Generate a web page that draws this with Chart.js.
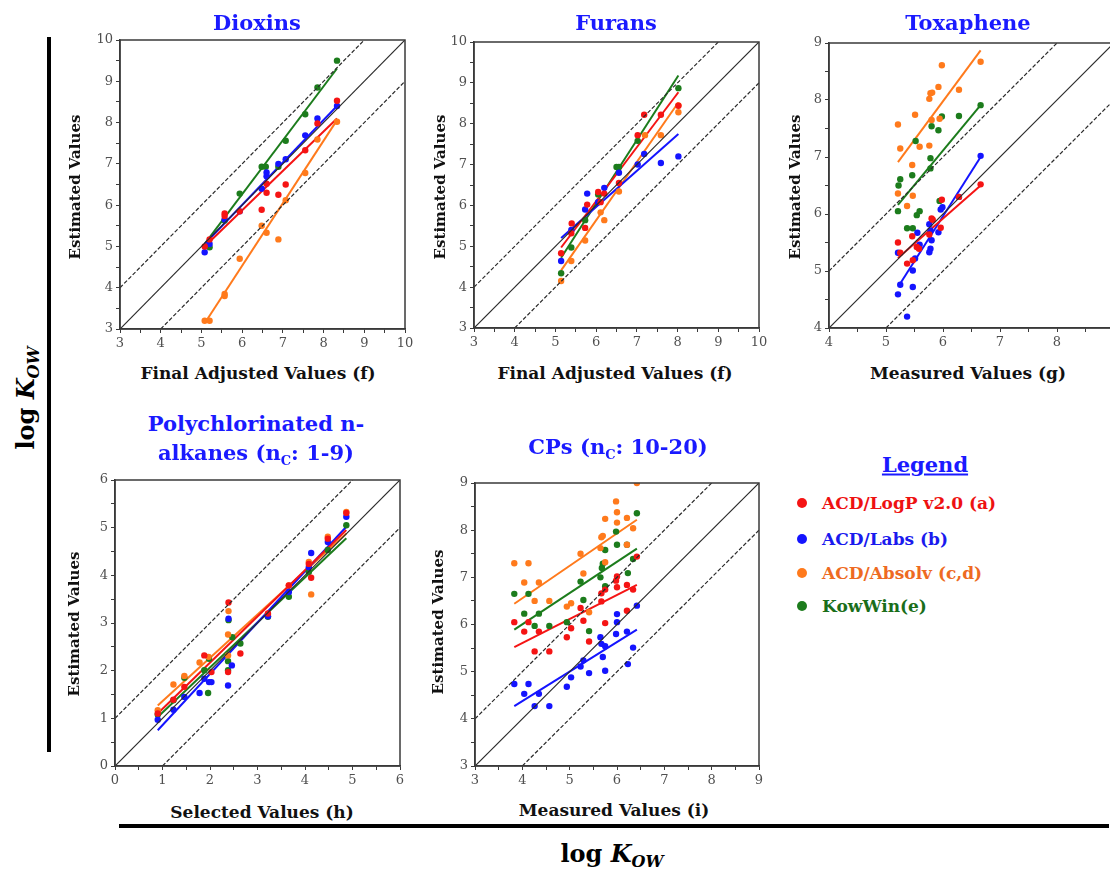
<!DOCTYPE html>
<html>
<head>
<meta charset="utf-8">
<script src="https://cdn.jsdelivr.net/npm/chart.js@4/dist/chart.umd.min.js"></script>
<style>
  html, body { margin: 0; padding: 0; background: #fff; }
  body { width: 1110px; height: 871px; position: relative; overflow: hidden; font-family: "DejaVu Serif", serif; }
  canvas { position: absolute; }
  .txt { position: absolute; transform: translate(-50%, -50%); white-space: nowrap; font-weight: bold; }
  .title { color: #1a1aff; font-size: 21px; }
  .axis { color: #111; font-size: 17px; }
  .axis.rot { font-size: 15px; }
  .rot { transform: translate(-50%, -50%) rotate(-90deg); }
  .big { color: #000; font-size: 24px; }
  .rule { position: absolute; background: #000; }
  .legend-row { position: absolute; font-size: 17px; font-weight: bold; white-space: nowrap; transform: translateY(-50%); }
  .dot { position: absolute; width: 10px; height: 10px; border-radius: 50%; transform: translate(-50%, -50%); }
</style>
</head>
<body>

<canvas id="dioxins"></canvas>
<canvas id="furans"></canvas>
<canvas id="toxaphene"></canvas>
<canvas id="alkanes"></canvas>
<canvas id="cps"></canvas>

<div class="txt title" style="left:257px; top:22px;">Dioxins</div>
<div class="txt title" style="left:616px; top:22px;">Furans</div>
<div class="txt title" style="left:968px; top:22px;">Toxaphene</div>
<div class="txt title" style="left:256px; top:423px;">Polychlorinated n-</div>
<div class="txt title" style="left:256px; top:454px;">alkanes (n<sub style="font-size:13px">C</sub>: 1-9)</div>
<div class="txt title" style="left:618px; top:448px;">CPs (n<sub style="font-size:13px">C</sub>: 10-20)</div>

<div class="txt axis" style="left:258px; top:373px;">Final Adjusted Values (f)</div>
<div class="txt axis" style="left:615px; top:373px;">Final Adjusted Values (f)</div>
<div class="txt axis" style="left:968px; top:373px;">Measured Values (g)</div>
<div class="txt axis" style="left:262px; top:812px;">Selected Values (h)</div>
<div class="txt axis" style="left:614px; top:810px;">Measured Values (i)</div>

<div class="txt axis rot" style="left:75px; top:187px;">Estimated Values</div>
<div class="txt axis rot" style="left:440px; top:187px;">Estimated Values</div>
<div class="txt axis rot" style="left:795px; top:187px;">Estimated Values</div>
<div class="txt axis rot" style="left:74px; top:624px;">Estimated Values</div>
<div class="txt axis rot" style="left:438px; top:622px;">Estimated Values</div>

<div class="rule" style="left:47px; top:37px; width:4px; height:715px;"></div>
<div class="rule" style="left:119px; top:824px; width:990px; height:4px;"></div>
<div class="txt big rot" style="left:27px; top:398px;">log <i>K</i><sub style="font-size:16px"><i>OW</i></sub></div>
<div class="txt big" style="left:612px; top:855px;">log <i>K</i><sub style="font-size:16px"><i>OW</i></sub></div>

<div class="txt title" style="left:925px; top:464px; text-decoration: underline;">Legend</div>
<div id="legend"></div>

<script>
// series order: ACD/LogP, ACD/Labs, ACD/Absolv, KowWin
const seriesNames = ["ACD/LogP v2.0 (a)", "ACD/Labs (b)", "ACD/Absolv (c,d)", "KowWin(e)"];
const pointColors = ["#f51414", "#1414ff", "#ff7a1c", "#1c7c1c"];
const textColors = ["#ee1111", "#1a1aee", "#ee6a22", "#1a6e1a"];

// axis ranges (same on x and y)
const dioxinsRange = [3, 10];
const furansRange = [3, 10];
const toxapheneRange = [4, 9];
const alkanesRange = [0, 6];
const cpsRange = [3, 9];

// Dioxins
const dioxinsRed = [[5.08,5.0],[5.2,5.17],[5.57,5.8],[5.57,5.74],[5.94,5.85],[6.48,5.89],[6.6,6.3],[6.6,6.52],[6.89,6.25],[7.07,6.5],[7.55,7.33],[7.85,7.98],[8.33,8.53]];
const dioxinsBlue = [[5.08,4.86],[5.2,5.06],[5.57,5.65],[5.94,5.85],[6.48,6.4],[6.6,6.7],[6.6,6.79],[6.89,7.0],[7.07,7.11],[7.55,7.69],[7.85,8.1],[8.33,8.4]];
const dioxinsOrange = [[5.08,3.2],[5.2,3.2],[5.57,3.85],[5.57,3.8],[5.94,4.7],[6.48,5.5],[6.6,5.33],[6.89,5.17],[7.07,6.12],[7.55,6.78],[7.85,7.59],[8.33,8.02]];
const dioxinsGreen = [[5.2,4.98],[5.57,5.63],[5.94,6.28],[6.48,6.93],[6.58,6.93],[6.89,6.93],[7.07,7.56],[7.55,8.2],[7.85,8.85],[8.33,9.5]];
const dioxinsFits = [[[5.08,5.0],[8.33,8.1]], [[5.08,5.06],[8.33,8.4]], [[5.12,3.2],[8.33,8.06]], [[5.08,5.06],[8.33,9.31]]];

// Furans
const furansRed = [[5.14,4.83],[5.39,5.32],[5.4,5.56],[5.73,5.45],[5.78,6.02],[6.05,6.33],[6.11,6.08],[6.2,6.29],[6.56,6.55],[7.02,7.72],[7.18,8.22],[7.59,8.22],[8.02,8.44]];
const furansBlue = [[5.14,4.64],[5.39,5.4],[5.73,5.9],[5.78,6.29],[6.05,6.08],[6.2,6.43],[6.56,6.8],[7.02,7.0],[7.18,7.26],[7.59,7.04],[8.02,7.2]];
const furansOrange = [[5.14,4.15],[5.39,4.64],[5.73,5.14],[6.11,5.83],[6.2,5.64],[6.56,6.34],[7.2,7.72],[7.59,7.72],[8.02,8.28],[8.02,8.45]];
const furansGreen = [[5.14,4.34],[5.39,4.97],[5.73,5.64],[6.05,6.27],[6.5,6.94],[6.56,6.94],[7.02,7.58],[8.02,8.87]];
const furansFits = [[[5.14,4.97],[8.02,8.77]], [[5.14,5.2],[8.02,7.75]], [[5.14,4.41],[8.02,8.52]], [[5.14,4.72],[8.02,9.18]]];

// Toxaphene
const toxapheneRed = [[5.21,5.5],[5.25,5.32],[5.37,5.13],[5.46,5.61],[5.47,5.19],[5.54,5.42],[5.58,5.39],[5.76,5.64],[5.8,5.92],[5.82,5.9],[5.98,6.25],[5.96,5.76],[6.28,6.3],[6.66,6.52]];
const toxapheneBlue = [[5.21,5.32],[5.25,4.76],[5.21,4.59],[5.37,4.2],[5.47,5.01],[5.47,4.72],[5.51,5.22],[5.55,5.67],[5.59,5.46],[5.76,5.82],[5.78,5.71],[5.8,5.54],[5.78,5.39],[5.76,5.33],[5.92,5.68],[5.96,6.08],[5.99,6.12],[6.28,6.3],[6.66,7.02]];
const toxapheneOrange = [[5.21,7.57],[5.25,7.15],[5.51,7.74],[5.59,7.18],[5.46,6.86],[5.21,6.36],[5.37,6.14],[5.47,6.32],[5.76,7.2],[5.76,8.02],[5.78,8.12],[5.81,8.13],[5.92,8.23],[5.98,8.61],[5.8,7.65],[5.94,7.67],[6.28,8.18],[6.66,8.67]];
const toxapheneGreen = [[5.21,6.05],[5.22,6.5],[5.25,6.61],[5.46,6.68],[5.52,7.28],[5.54,5.98],[5.59,6.05],[5.37,5.75],[5.47,5.75],[5.8,7.54],[5.92,7.47],[5.98,7.71],[5.78,6.98],[5.78,6.8],[5.94,6.23],[6.28,7.72],[6.66,7.91]];
const toxapheneFits = [[[5.21,5.23],[6.66,6.5]], [[5.25,4.78],[6.66,7.0]], [[5.21,6.91],[6.66,8.87]], [[5.21,6.16],[6.66,7.91]]];

// Polychlorinated n-alkanes
const alkanesRed = [[0.9,1.1],[1.23,1.39],[1.46,1.66],[1.88,2.32],[2.03,1.97],[2.39,3.43],[2.38,1.97],[2.64,2.36],[3.22,3.2],[3.66,3.79],[4.08,4.24],[4.13,3.95],[4.48,4.77],[4.87,5.31]];
const alkanesBlue = [[0.9,0.97],[1.23,1.18],[1.46,1.45],[1.78,1.53],[1.88,1.83],[1.98,1.76],[2.03,1.76],[2.38,1.69],[2.39,3.09],[2.46,2.11],[3.22,3.14],[3.66,3.65],[4.08,4.17],[4.13,4.47],[4.48,4.7],[4.87,5.23]];
const alkanesOrange = [[0.9,1.17],[1.23,1.71],[1.46,1.89],[1.78,2.17],[1.97,2.29],[2.38,2.32],[2.38,2.76],[2.39,3.25],[3.22,3.18],[3.66,3.79],[4.08,4.28],[4.13,3.6],[4.48,4.81],[4.87,5.33]];
const alkanesGreen = [[0.9,1.08],[1.23,1.38],[1.46,1.85],[1.88,2.01],[1.98,2.25],[1.96,1.53],[2.38,2.2],[2.38,2.01],[2.39,3.06],[2.47,2.7],[2.64,2.57],[3.22,3.13],[3.66,3.55],[4.08,4.07],[4.48,4.53],[4.87,5.05]];
const alkanesFits = [[[0.9,1.1],[4.87,4.95]], [[0.9,0.75],[4.87,5.02]], [[0.9,1.27],[4.87,4.88]], [[0.9,1.03],[4.87,4.78]]];

// CPs
const cpsRed = [[3.83,6.05],[4.04,5.85],[4.13,6.05],[4.26,5.43],[4.35,5.85],[4.57,5.43],[4.94,5.73],[5.03,5.92],[5.23,6.35],[5.29,6.08],[5.41,5.64],[5.67,6.49],[5.67,6.66],[5.75,6.74],[5.75,6.03],[5.98,6.93],[6.0,7.02],[6.0,6.79],[6.21,6.84],[6.21,6.29],[6.34,6.74],[6.42,7.44]];
const cpsBlue = [[3.83,4.74],[4.04,4.53],[4.13,4.74],[4.26,4.27],[4.35,4.53],[4.57,4.27],[4.94,4.68],[5.03,4.88],[5.23,5.11],[5.29,5.24],[5.41,4.97],[5.65,5.73],[5.67,5.59],[5.7,5.31],[5.75,5.54],[5.75,5.02],[5.98,5.8],[6.0,6.05],[6.0,6.22],[6.21,5.85],[6.23,5.16],[6.34,5.51],[6.42,6.4]];
const cpsOrange = [[3.83,7.3],[4.13,7.3],[4.04,6.89],[4.35,6.89],[4.26,6.5],[4.57,6.5],[4.94,6.38],[5.03,6.45],[5.23,7.5],[5.29,7.08],[5.41,6.26],[5.67,7.85],[5.7,7.88],[5.65,7.62],[5.75,8.24],[5.75,7.32],[5.98,8.61],[6.0,8.38],[6.0,8.16],[6.21,8.26],[6.21,7.69],[6.34,8.04],[6.42,9.0]];
const cpsGreen = [[3.83,6.65],[4.04,6.23],[4.13,6.65],[4.26,5.97],[4.35,6.23],[4.57,5.97],[4.94,6.05],[5.23,6.91],[5.29,6.52],[5.41,5.86],[5.65,7.0],[5.68,7.2],[5.7,7.29],[5.75,7.58],[5.75,6.81],[5.98,7.97],[6.0,7.69],[6.21,7.69],[6.23,7.09],[6.34,7.39],[6.42,8.36]];
const cpsFits = [[[3.83,5.52],[6.42,6.84]], [[3.83,4.27],[6.42,5.89]], [[3.83,6.44],[6.42,8.22]], [[3.83,5.89],[6.42,7.61]]];

// padding round each plot area inside its canvas
const PAD_L = 44, PAD_B = 32, PAD_T = 12, PAD_R = 14;

const framePlugin = {
  id: "frame",
  afterDraw(chart) {
    const { ctx, chartArea: a } = chart;
    ctx.save();
    ctx.strokeStyle = "#3a3a3a";
    ctx.lineWidth = 1.5;
    ctx.strokeRect(a.left, a.top, a.right - a.left, a.bottom - a.top);
    ctx.restore();
  },
};

function toXY(pairs) {
  return pairs.map(([x, y]) => ({ x, y }));
}

function axisOptions(range, isY) {
  return {
    type: "linear",
    min: range[0],
    max: range[1],
    afterFit(scale) {
      if (isY) scale.width = PAD_L;
      else scale.height = PAD_B;
    },
    border: { display: true, color: "#3a3a3a", width: 1.5 },
    grid: { display: true, drawOnChartArea: false, drawTicks: true, tickLength: 4, color: "#3a3a3a" },
    ticks: {
      stepSize: 0.5,
      autoSkip: false,
      maxRotation: 0,
      padding: 3,
      color: "#4f4f4f",
      font: { family: "DejaVu Serif", size: 13 },
      callback(value) {
        return Number.isInteger(value) ? String(value) : "";
      },
    },
  };
}

function makePanel(id, box, range, series, fits) {
  const [left, top, w, h] = box;
  const canvas = document.getElementById(id);
  canvas.width = w + PAD_L + PAD_R;
  canvas.height = h + PAD_T + PAD_B;
  canvas.style.left = `${left - PAD_L}px`;
  canvas.style.top = `${top - PAD_T}px`;

  const [lo, hi] = range;
  const refLine = (data, dashed) => ({
    type: "line",
    data,
    borderColor: "#2a2a2a",
    borderWidth: 1.2,
    borderDash: dashed ? [4, 2] : [],
    pointRadius: 0,
    fill: false,
  });

  const datasets = [
    refLine([{ x: lo, y: lo }, { x: hi, y: hi }], false),
    refLine([{ x: lo, y: lo + 1 }, { x: hi - 1, y: hi }], true),
    refLine([{ x: lo + 1, y: lo }, { x: hi, y: hi - 1 }], true),
  ];

  series.forEach((pts, i) => {
    datasets.push({
      type: "scatter",
      data: toXY(pts),
      backgroundColor: pointColors[i],
      borderWidth: 0,
      pointRadius: 3.2,
    });
  });

  fits.forEach((line, i) => {
    datasets.push({
      type: "line",
      data: toXY(line),
      borderColor: pointColors[i],
      borderWidth: 2,
      pointRadius: 0,
      fill: false,
    });
  });

  new Chart(canvas, {
    data: { datasets },
    options: {
      responsive: false,
      animation: false,
      devicePixelRatio: 1,
      layout: { padding: { top: PAD_T, right: PAD_R, left: 0, bottom: 0 } },
      plugins: { legend: { display: false }, tooltip: { enabled: false } },
      scales: {
        x: axisOptions(range, false),
        y: axisOptions(range, true),
      },
    },
    plugins: [framePlugin],
  });
}

function renderLegend() {
  const el = document.getElementById("legend");
  const rowsY = [503, 539, 573, 606];
  el.innerHTML = seriesNames
    .map(
      (name, i) => `
        <div class="dot" style="left:802px; top:${rowsY[i]}px; background:${pointColors[i]}"></div>
        <div class="legend-row" style="left:822px; top:${rowsY[i]}px; color:${textColors[i]}">${name}</div>
      `,
    )
    .join("");
}

makePanel("dioxins", [120, 40, 285, 289], dioxinsRange,
  [dioxinsRed, dioxinsBlue, dioxinsOrange, dioxinsGreen], dioxinsFits);
makePanel("furans", [474, 42, 285, 286], furansRange,
  [furansRed, furansBlue, furansOrange, furansGreen], furansFits);
makePanel("toxaphene", [829, 43, 285, 285], toxapheneRange,
  [toxapheneRed, toxapheneBlue, toxapheneOrange, toxapheneGreen], toxapheneFits);
makePanel("alkanes", [115, 480, 285, 286], alkanesRange,
  [alkanesRed, alkanesBlue, alkanesOrange, alkanesGreen], alkanesFits);
makePanel("cps", [475, 483, 284, 283], cpsRange,
  [cpsRed, cpsBlue, cpsOrange, cpsGreen], cpsFits);

renderLegend();
</script>
</body>
</html>
